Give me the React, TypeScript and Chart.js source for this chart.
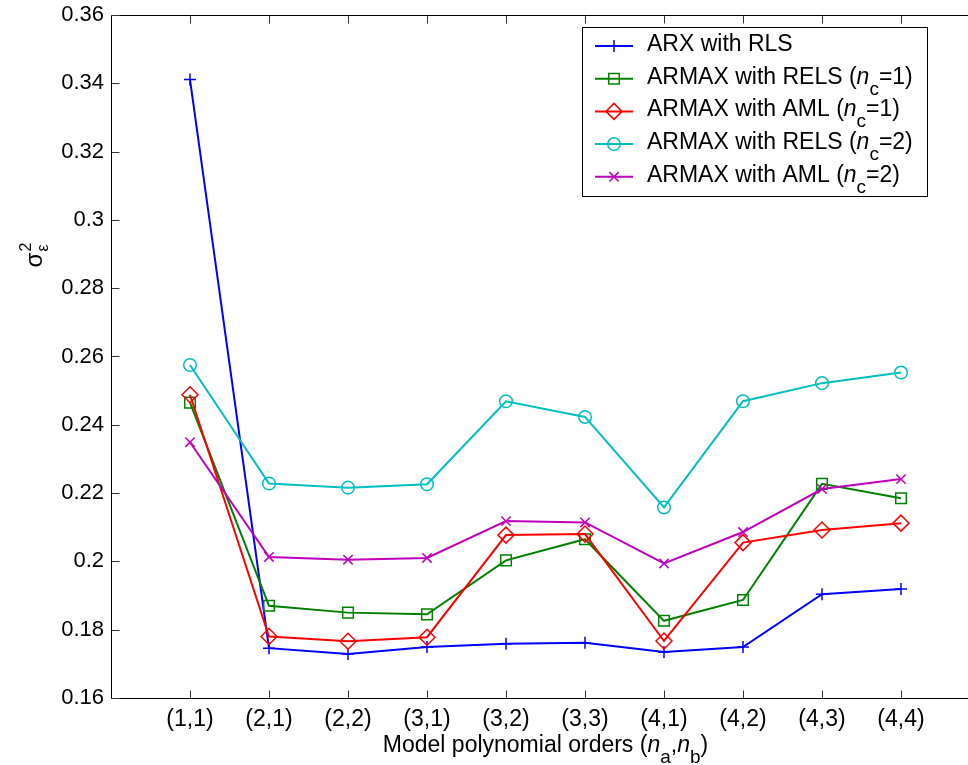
import React, { useEffect, useRef } from "react";
import { Chart, registerables } from "chart.js";

Chart.register(...registerables);

const categories = ["(1,1)", "(2,1)", "(2,2)", "(3,1)", "(3,2)", "(3,3)", "(4,1)", "(4,2)", "(4,3)", "(4,4)"];
const arxRls = [0.3411, 0.1746, 0.1729, 0.1749, 0.1759, 0.1762, 0.1735, 0.1749, 0.1904, 0.1919];
const armaxRels1 = [0.2465, 0.187, 0.185, 0.1845, 0.2003, 0.2065, 0.1826, 0.1887, 0.2227, 0.2185];
const armaxAml1 = [0.2488, 0.178, 0.1766, 0.1778, 0.2077, 0.208, 0.1767, 0.2055, 0.2092, 0.2112];
const armaxRels2 = [0.2575, 0.2228, 0.2216, 0.2226, 0.2469, 0.2423, 0.2158, 0.2469, 0.2522, 0.2553];
const armaxAml2 = [0.2349, 0.2013, 0.2005, 0.201, 0.2118, 0.2114, 0.1994, 0.2086, 0.2212, 0.2241];
const yTicks = [0.16, 0.18, 0.2, 0.22, 0.24, 0.26, 0.28, 0.3, 0.32, 0.34, 0.36];

type Seg = { t: string; it?: boolean; sub?: boolean; sup?: boolean };

const seriesDefs = [
  { label: [{ t: "ARX with RLS" }] as Seg[], data: arxRls, color: "#0000ff", style: "cross", r: 6 },
  { label: [{ t: "ARMAX with RELS (" }, { t: "n", it: true }, { t: "c", sub: true }, { t: "=1)" }] as Seg[], data: armaxRels1, color: "#008000", style: "rect", r: 7.5 },
  { label: [{ t: "ARMAX with AML (" }, { t: "n", it: true }, { t: "c", sub: true }, { t: "=1)" }] as Seg[], data: armaxAml1, color: "#ff0000", style: "rectRot", r: 8 },
  { label: [{ t: "ARMAX with RELS (" }, { t: "n", it: true }, { t: "c", sub: true }, { t: "=2)" }] as Seg[], data: armaxRels2, color: "#00bfbf", style: "circle", r: 6.3 },
  { label: [{ t: "ARMAX with AML (" }, { t: "n", it: true }, { t: "c", sub: true }, { t: "=2)" }] as Seg[], data: armaxAml2, color: "#bf00bf", style: "crossRot", r: 6.6 },
];

const FONT = "'Liberation Sans', Arial, Helvetica, sans-serif";

function segFont(s: Seg, size: number) {
  const fs = s.sub || s.sup ? Math.round(size * 0.82) : size;
  return `${s.it ? "italic " : ""}${fs}px ${FONT}`;
}

function segsWidth(ctx: CanvasRenderingContext2D, segs: Seg[], size: number) {
  let w = 0;
  for (const s of segs) { ctx.font = segFont(s, size); w += ctx.measureText(s.t).width; }
  return w;
}

function drawSegs(ctx: CanvasRenderingContext2D, segs: Seg[], x: number, y: number, size: number) {
  let cx = x;
  for (const s of segs) {
    ctx.font = segFont(s, size);
    const dy = s.sub ? size * 0.48 : s.sup ? -size * 0.4 : 0;
    ctx.fillText(s.t, cx, y + dy);
    cx += ctx.measureText(s.t).width;
  }
}

function drawMarker(ctx: CanvasRenderingContext2D, style: string, x: number, y: number, r: number) {
  ctx.beginPath();
  if (style === "cross") {
    ctx.moveTo(x - r, y); ctx.lineTo(x + r, y);
    ctx.moveTo(x, y - r); ctx.lineTo(x, y + r);
  } else if (style === "rect") {
    const s = r * Math.SQRT1_2;
    ctx.rect(x - s, y - s, 2 * s, 2 * s);
  } else if (style === "rectRot") {
    ctx.moveTo(x - r, y); ctx.lineTo(x, y - r); ctx.lineTo(x + r, y); ctx.lineTo(x, y + r); ctx.closePath();
  } else if (style === "circle") {
    ctx.arc(x, y, r, 0, Math.PI * 2);
  } else if (style === "crossRot") {
    const s = r * Math.SQRT1_2;
    ctx.moveTo(x - s, y - s); ctx.lineTo(x + s, y + s);
    ctx.moveTo(x - s, y + s); ctx.lineTo(x + s, y - s);
  }
  ctx.stroke();
}

const framePlugin = {
  id: "matlabFrame",
  afterDraw(chart: any) {
    const ctx: CanvasRenderingContext2D = chart.ctx;
    const { left, right, top, bottom } = chart.chartArea;
    const xs = chart.scales.x;
    const ys = chart.scales.y;
    ctx.save();
    ctx.strokeStyle = "#000";
    ctx.lineWidth = 1;
    const L = Math.round(left) + 0.5, T = Math.round(top) + 0.5, B = Math.round(bottom) + 0.5, R = Math.round(right) + 0.5;
    ctx.beginPath();
    ctx.moveTo(L, T); ctx.lineTo(R, T);
    ctx.moveTo(L, T); ctx.lineTo(L, B);
    ctx.moveTo(L, B); ctx.lineTo(R, B);
    ctx.moveTo(R, T); ctx.lineTo(R, B);
    ctx.stroke();
    ctx.strokeStyle = "#333";
    ctx.beginPath();
    categories.forEach((_, i) => {
      const px = Math.round(xs.getPixelForValue(i + 1)) + 0.5;
      ctx.moveTo(px, B); ctx.lineTo(px, B - 8);
      ctx.moveTo(px, T); ctx.lineTo(px, T + 8);
    });
    yTicks.forEach((v) => {
      const py = Math.round(ys.getPixelForValue(v)) + 0.5;
      ctx.moveTo(L, py); ctx.lineTo(L + 8, py);
      ctx.moveTo(R, py); ctx.lineTo(R - 8, py);
    });
    ctx.stroke();

    // Legend
    const bx = 582.5, by = 27.5, bw = 345, bh = 169;
    ctx.fillStyle = "#fff";
    ctx.fillRect(bx, by, bw, bh);
    ctx.strokeStyle = "#000";
    ctx.lineWidth = 1;
    ctx.strokeRect(bx, by, bw, bh);
    seriesDefs.forEach((s, i) => {
      const ly = 46 + 32.7 * i;
      ctx.strokeStyle = s.color;
      ctx.lineWidth = 2;
      ctx.beginPath();
      ctx.moveTo(595, ly); ctx.lineTo(633, ly);
      ctx.stroke();
      ctx.lineWidth = 1.5;
      drawMarker(ctx, s.style, 614, ly, s.r);
      ctx.fillStyle = "#000";
      ctx.textAlign = "left";
      ctx.textBaseline = "alphabetic";
      drawSegs(ctx, s.label, 647, ly + 4.8, 23);
    });

    // X title
    const xt: Seg[] = [{ t: "Model polynomial orders (" }, { t: "n", it: true }, { t: "a", sub: true }, { t: "," }, { t: "n", it: true }, { t: "b", sub: true }, { t: ")" }];
    const w = segsWidth(ctx, xt, 23);
    ctx.fillStyle = "#000";
    ctx.textAlign = "left";
    drawSegs(ctx, xt, (left + right) / 2 - w / 2, 752, 23);

    // Y title
    ctx.save();
    ctx.translate(42, 256);
    ctx.rotate(-Math.PI / 2);
    ctx.font = `24px ${FONT}`;
    ctx.textAlign = "left";
    const sw = ctx.measureText("\u03c3").width;
    ctx.fillText("\u03c3", -sw / 2 - 4, 0);
    ctx.font = `16px ${FONT}`;
    ctx.fillText("2", sw / 2 - 3, -11);
    ctx.fillText("\u03b5", sw / 2 - 3, 6);
    ctx.restore();

    ctx.restore();
  },
};

export default function App() {
  const ref = useRef<HTMLCanvasElement | null>(null);
  useEffect(() => {
    if (!ref.current) return;
    const chart = new Chart(ref.current, {
      type: "line",
      data: {
        datasets: seriesDefs.map((s, i) => ({
          label: s.label.map((x) => x.t).join(""),
          data: s.data.map((v, j) => ({ x: j + 1, y: v })),
          borderColor: s.color,
          backgroundColor: "transparent",
          borderWidth: 2,
          pointStyle: s.style as any,
          pointRadius: s.r,
          pointBorderColor: s.color,
          pointBackgroundColor: "transparent",
          pointBorderWidth: 1.5,
          tension: 0,
          fill: false,
          order: seriesDefs.length - i,
        })),
      },
      options: {
        animation: false,
        responsive: false,
        maintainAspectRatio: false,
        layout: { padding: { top: 15, right: 20, left: 0, bottom: 0 } },
        plugins: { legend: { display: false }, tooltip: { enabled: false } },
        scales: {
          x: {
            type: "linear",
            min: 0,
            max: 11,
            afterBuildTicks: (scale: any) => {
              scale.ticks = categories.map((_, i) => ({ value: i + 1 }));
            },
            afterFit: (scale: any) => {
              scale.height = 67;
              scale.paddingLeft = 0;
              scale.paddingRight = 0;
            },
            grid: { display: false, drawTicks: false },
            border: { display: false },
            ticks: {
              autoSkip: false,
              maxRotation: 0,
              padding: 8,
              color: "#000",
              font: { family: FONT, size: 23 },
              callback: (v: any) => categories[Number(v) - 1] ?? "",
            },
          },
          y: {
            min: 0.16,
            max: 0.36,
            afterBuildTicks: (scale: any) => {
              scale.ticks = yTicks.map((v) => ({ value: v }));
            },
            afterFit: (scale: any) => {
              scale.width = 111;
              scale.paddingTop = 0;
              scale.paddingBottom = 0;
            },
            grid: { display: false, drawTicks: false },
            border: { display: false },
            ticks: {
              padding: 7,
              color: "#000",
              font: { family: FONT, size: 22 },
              callback: (v: any) => String(Number(Number(v).toFixed(2))),
            },
          },
        },
      },
      plugins: [framePlugin],
    });
    return () => chart.destroy();
  }, []);
  return (
    <div style={{ position: "fixed", left: 0, top: 0, width: 968, height: 765, overflow: "hidden", background: "#fff" }}>
      <canvas ref={ref} width={1000} height={765} style={{ display: "block", width: 1000, height: 765 }} />
    </div>
  );
}
